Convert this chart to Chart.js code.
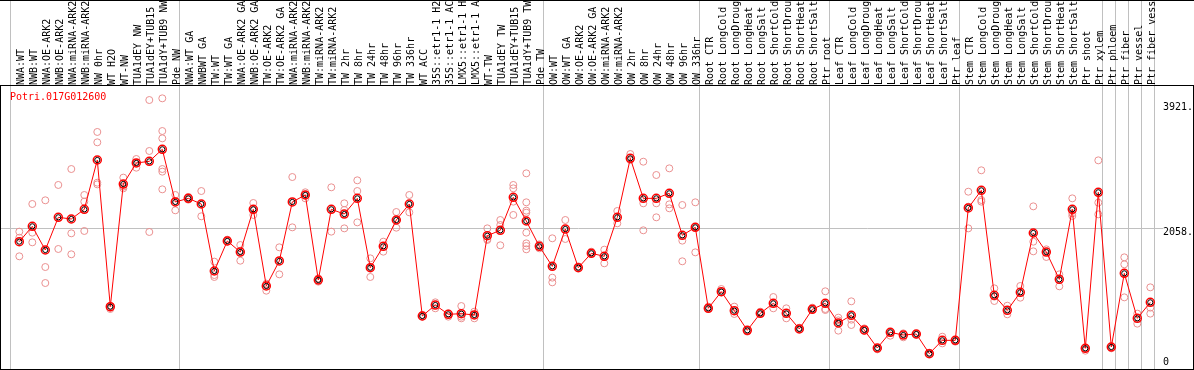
<!DOCTYPE html>
<html><head><meta charset="utf-8">
<script src="https://cdn.jsdelivr.net/npm/chart.js@4.4.1/dist/chart.umd.min.js"></script>
<style>
html,body{margin:0;padding:0;background:#fff;overflow:hidden;}
#wrap{position:relative;width:1194px;height:370px;}
canvas{position:absolute;left:0;top:0;}
#topline{position:absolute;left:0;top:0;width:1194px;height:0;border-top:1px solid #000;}
#frame{position:absolute;left:0;top:85px;width:1192px;height:283px;border:1px solid #000;}
#gene{position:absolute;left:10px;top:91px;color:#f00;font:10px "DejaVu Sans Mono",monospace;line-height:12px;}
</style></head><body>
<div id="wrap"><canvas id="c" width="1194" height="370"></canvas><div id="topline"></div><div id="frame"></div><div id="gene">Potri.017G012600</div></div>
<script>
const categories = ['NWA:WT','NWB:WT','NWA:OE-ARK2','NWB:OE-ARK2','NWA:miRNA-ARK2','NWB:miRNA-ARK2','NW 0hr','WT H2O','WT-NW','TUA1dEY NW','TUA1dEY+TUB15','TUA1dY+TUB9 NW','Pde NW','NWA:WT GA','NWBWT GA','TW:WT','TW:WT GA','NWA:OE-ARK2 GA','NWB:OE-ARK2 GA','TW:OE-ARK2','TW:OE-ARK2 GA','NWA:miRNA-ARK2','NWB:miRNA-ARK2','TW:miRNA-ARK2','TW:miRNA-ARK2','TW 2hr','TW 8hr','TW 24hr','TW 48hr','TW 96hr','TW 336hr','WT ACC','35S::etr1-1 H2','35S::etr1-1 AC','LMX5::etr1-1 H','LMX5::etr1-1 A','WT-TW','TUA1dEY TW','TUA1dEY+TUB15','TUA1dY+TUB9 TW','Pde TW','OW:WT','OW:WT GA','OW:OE-ARK2','OW:OE-ARK2 GA','OW:miRNA-ARK2','OW:miRNA-ARK2','OW 2hr','OW 8hr','OW 24hr','OW 48hr','OW 96hr','OW 336hr','Root CTR','Root LongCold','Root LongDroug','Root LongHeat','Root LongSalt','Root ShortCold','Root ShortDrou','Root ShortHeat','Root ShortSalt','Ptr root','Leaf CTR','Leaf LongCold','Leaf LongDroug','Leaf LongHeat','Leaf LongSalt','Leaf ShortCold','Leaf ShortDrou','Leaf ShortHeat','Leaf ShortSalt','Ptr leaf','Stem CTR','Stem LongCold','Stem LongDroug','Stem LongHeat','Stem LongSalt','Stem ShortCold','Stem ShortDrou','Stem ShortHeat','Stem ShortSalt','Ptr shoot','Ptr xylem','Ptr phloem','Ptr fiber','Ptr vessel','Ptr fiber vess'];

const means = [1859,2087,1735,2221,2196,2340,3073,893,2716,3029,
3053,3232,2449,2503,2419,1423,1869,1705,2340,1200,
1572,2449,2553,1289,2340,2270,2503,1472,1790,2181,
2419,754,917,779,788,769,1948,2028,2518,2166,
1790,1492,2047,1472,1686,1641,2221,3098,2503,2503,
2578,1953,2072,868,1116,833,541,793,942,793,
561,853,942,650,764,546,278,511,471,486,
194,392,392,2360,2622,1061,838,1106,1988,1705,
1299,2340,273,2593,293,1388,719,957];

const replicates = [
[2008,1918,1641],[2419,1993,1849],[2474,1482,1244],[2702,1750],[2939,1983,1671],
[2553,2454,2018],[3490,3336,2736,2711],[902,878,858],[2811,2677,2652],[3088,3029,2959],
[3965,3207,2003],[3990,3504,3395,2939,2900,2637],[2553,2464,2325],[2523,2503,2483],[2612,2236],
[1562,1363,1334],[1889,1859],[1809,1725,1576],[2434,2330,2256],[1235,1225,1130],
[1775,1373],[2820,2072],[2593,2553,2503],[1314,1289,1264],[2667,2008],
[2429,2330,2057],[2771,2612,2146],[1611,1472,1334],[1859,1710],[2300,2181,2067],
[2553,2295],[769,744],[957,868],[793,744],[902,744,719],
[818,769,719],[2057,1899,1884],[2181,2107,1805],[2702,2652,2454,2256],[2875,2444,2320,2290,1993,1834,1795,1745],
[1819,1760],[1909,1324,1254],[2181,1899],[1492,1472],[1710,1686],
[1740,1537],[2315,2132],[3162,3073],[3048,2429,2028],[2850,2429,2221],
[2949,2414,2355],[2404,1874,1567],[2444,2072,1700],[893,868],[1155,1106],
[893,784],[541,521],[818,793],[1036,868],[868,719],
[580,561],[878,853],[1121,858,843],[729,689,536],[972,699,620],
[570,531],[278,258],[511,461],[496,437],[486,471],
[209,194],[446,347],[392,372],[2602,2379,2057],[2920,2479,2454],
[1165,1041,977],[907,779],[1200,1026],[2384,1859,1715],[1745,1631],
[1373,1195],[2503,2280,2241],[273,238],[3068,2439,2265],[293,273],
[1626,1522,1031],[789,640],[1180,878,789]];

const groupStarts = [0,13,41,53,63,73,84,85,86,87,88];
const yTickValues = [3921, 2058, 0];
const yTickLabels = ['3921.', '2058.', '0'];

const meanPoints = means.map((v, i) => ({x: i, y: v}));
const repPoints = replicates.flatMap((arr, i) => arr.map(v => ({x: i, y: v})));

const GRID = '#c0c0c0';
const FONT = {family: '"DejaVu Sans Mono", monospace', size: 10};
const X_MIN = -1.4077, X_MAX = 87.4385;

function noPad(s) { s.paddingLeft = 0; s.paddingRight = 0; s.paddingTop = 0; s.paddingBottom = 0; }

new Chart(document.getElementById('c'), {
  type: 'scatter',
  data: {datasets: [
    {label: 'mean inner', data: meanPoints, showLine: false, pointRadius: 2.6,
     pointBorderColor: '#000', pointBorderWidth: 1, pointBackgroundColor: 'rgba(0,0,0,0)'},
    {label: 'mean', data: meanPoints, showLine: true, borderColor: '#ff0000', borderWidth: 1, tension: 0,
     pointRadius: 4, pointBorderColor: '#ff0000', pointBorderWidth: 1.5, pointBackgroundColor: 'rgba(0,0,0,0)'},
    {label: 'replicates', data: repPoints, showLine: false, pointRadius: 3.5,
     pointBorderColor: '#ea9090', pointBorderWidth: 1, pointBackgroundColor: 'rgba(0,0,0,0)'}
  ]},
  options: {
    responsive: false, animation: false, devicePixelRatio: 1,
    layout: {autoPadding: false, padding: {left: 1, right: 1, top: 0, bottom: 1}},
    plugins: {legend: {display: false}, tooltip: {enabled: false}, title: {display: false}},
    scales: {
      x: {type: 'linear', position: 'top', weight: 2, min: X_MIN, max: X_MAX,
        afterBuildTicks: s => { s.ticks = categories.map((_, i) => ({value: i})); },
        afterFit: s => { s.height = 86; noPad(s); },
        grid: {display: false, drawTicks: false, tickLength: 0}, border: {display: false},
        ticks: {autoSkip: false, minRotation: 90, maxRotation: 90, padding: 1, labelOffset: 14,
          color: '#000', font: FONT, callback: v => categories[v]}},
      xg: {type: 'linear', position: 'top', weight: 1, min: X_MIN, max: X_MAX,
        afterBuildTicks: s => { s.ticks = groupStarts.map(b => ({value: b - 0.6615})); },
        afterFit: s => { s.height = 0; noPad(s); },
        grid: {color: GRID, lineWidth: 1, drawTicks: true, tickLength: 86}, border: {display: false},
        ticks: {display: false}},
      y: {type: 'linear', position: 'right', min: -34.2, max: 4173.4,
        afterBuildTicks: s => { s.ticks = yTickValues.map(v => ({value: v})); },
        afterFit: s => { s.width = 37; noPad(s); },
        grid: {color: c => (c.index === 1 ? GRID : 'rgba(0,0,0,0)'), tickLength: 7, drawTicks: true},
        border: {display: false},
        ticks: {padding: 0, crossAlign: 'near', color: '#000', labelOffset: 4,
          font: c => (c.index === yTickValues.length - 1 ? {...FONT, lineHeight: 1.74} : FONT),
          callback: (v, i) => (i === yTickValues.length - 1 ? [yTickLabels[i], ''] : yTickLabels[i])}}
    }
  }
});
</script>
</body></html>
